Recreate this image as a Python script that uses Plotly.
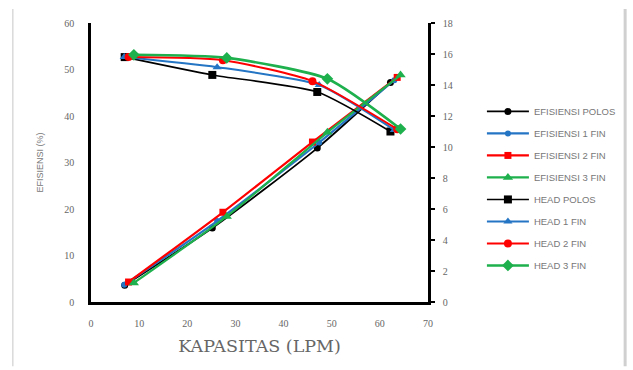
import plotly.graph_objects as go

# Capacity (LPM) per configuration
x_polos = [7.0, 25.2, 47.0, 62.2]
x_1fin = [6.9, 26.2, 47.4, 63.0]
x_2fin = [7.8, 27.4, 46.0, 63.6]
x_3fin = [8.9, 28.2, 49.1, 64.3]

# Efficiency (%) - left axis
eff_polos = [3.6, 15.9, 33.1, 47.2]
eff_1fin = [3.7, 17.4, 34.3, 47.7]
eff_2fin = [4.3, 19.3, 34.4, 48.3]
eff_3fin = [4.1, 18.4, 36.5, 48.8]

# Head (m) - right axis
head_polos = [15.8, 14.65, 13.55, 11.0]
head_1fin = [15.8, 15.15, 14.0, 11.1]
head_2fin = [15.8, 15.6, 14.25, 11.15]
head_3fin = [15.95, 15.75, 14.4, 11.16]

names = ["EFISIENSI POLOS", "EFISIENSI 1 FIN", "EFISIENSI 2 FIN", "EFISIENSI 3 FIN",
         "HEAD POLOS", "HEAD 1 FIN", "HEAD 2 FIN", "HEAD 3 FIN"]

BLACK = "#000000"
BLUE = "#2475C4"
RED = "#FF0000"
GREEN = "#1DB04C"

specs = [
    (x_polos, eff_polos, "y", BLACK, "circle", 7, 1.8),
    (x_1fin, eff_1fin, "y", BLUE, "circle", 6, 2.2),
    (x_2fin, eff_2fin, "y", RED, "square", 7, 2.2),
    (x_3fin, eff_3fin, "y", GREEN, "triangle-up", 9, 2.2),
    (x_polos, head_polos, "y2", BLACK, "square", 8, 1.6),
    (x_1fin, head_1fin, "y2", BLUE, "triangle-up", 8, 2.0),
    (x_2fin, head_2fin, "y2", RED, "circle", 8, 2.0),
    (x_3fin, head_3fin, "y2", GREEN, "diamond", 9, 2.6),
]

fig = go.Figure()
for name, (xs, ys, ax, col, sym, ms, lw) in zip(names, specs):
    fig.add_trace(go.Scatter(
        x=xs, y=ys, yaxis=ax, name=name, mode="lines+markers",
        line=dict(color=col, width=lw, shape="spline", smoothing=0.6),
        marker=dict(color=col, symbol=sym, size=ms),
        legendgroup=name,
    ))

tick_font = dict(family="Liberation Serif", size=10, color="#666666")

fig.update_layout(
    width=633, height=370,
    margin=dict(l=91, r=205, t=23, b=68),
    paper_bgcolor="white", plot_bgcolor="white",
    showlegend=True,
    legend=dict(x=1.16, y=0.735, xanchor="left", yanchor="top",
                font=dict(family="Liberation Sans", size=9.5, color="#777777"),
                tracegroupgap=3, itemwidth=42, bgcolor="rgba(0,0,0,0)"),
    xaxis=dict(range=[0, 70], dtick=10, showgrid=False, zeroline=False,
               showline=True, linecolor="black", linewidth=2.5,
               ticks="", tickfont=tick_font, ticklabelstandoff=10,
               title=dict(text="KAPASITAS (LPM)", standoff=12,
                          font=dict(family="DejaVu Serif", size=17.5, color="#666666"))),
    yaxis=dict(range=[0, 60], dtick=10, showgrid=False, zeroline=False,
               showline=True, linecolor="black", linewidth=2.5,
               ticks="", tickfont=tick_font, ticklabelstandoff=12,
               title=dict(text="EFISIENSI (%)", standoff=20,
                          font=dict(family="Liberation Sans", size=9, color="#777777"))),
    yaxis2=dict(range=[0, 18], dtick=2, overlaying="y", side="right",
                showgrid=False, zeroline=False,
                showline=True, linecolor="black", linewidth=2.5,
                ticks="outside", ticklen=4, tickwidth=2, tickcolor="black",
                tickfont=tick_font, ticklabelstandoff=6),
    shapes=[
        dict(type="line", xref="paper", yref="paper", x0=-0.232, x1=-0.232, y0=-0.23, y1=1.05,
             line=dict(color="#D9D9D9", width=1.5)),
        dict(type="line", xref="paper", yref="paper", x0=1.585, x1=1.585, y0=-0.23, y1=1.05,
             line=dict(color="#D0D0D0", width=3)),
    ],
)

fig.write_html("out.html")
